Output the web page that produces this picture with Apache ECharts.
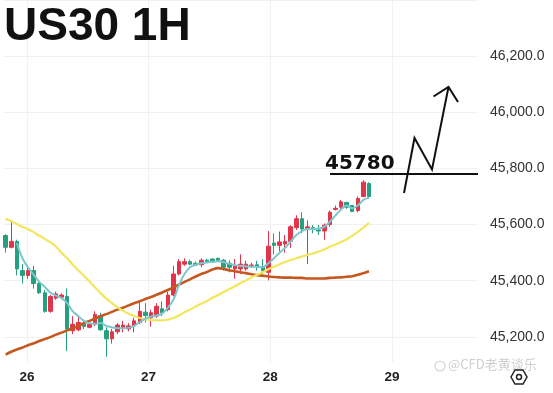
<!DOCTYPE html>
<html>
<head>
<meta charset="utf-8">
<script src="https://cdn.jsdelivr.net/npm/echarts@6/dist/echarts.min.js"></script>
<style>html,body{margin:0;padding:0;background:#fff}#c{width:553px;height:393px}</style>
</head>
<body>
<div id="c"></div>
<script>
// ---- data ----
const titleText = 'US30 1H';
const watermarkText = '@CFD老黄谈乐';
const dayLabels = ['26', '27', '28', '29'];
const dayValues = [26, 27, 28, 29];
const yTicks = [45200, 45400, 45600, 45800, 46000, 46200];
const levelValue = 45780;
const levelLabel = '45780';

const opens = [
 45561,45519,45540,45436,45419,45436,45390,45357,45291,45338,
 45341,45344,45222,45225,45245,45234,45245,45276,45222,45193,
 45218,45230,45228,45239,45251,45288,45268,45274,45300,45297,
 45349,45424,45459,45468,45462,45457,45473,45477,45480,45473,
 45462,45442,45442,45442,45451,45457,45450,45430,45534,45526,
 45531,45540,45589,45621,45584,45589,45581,45577,45600,45654,
 45662,45679,45668,45650,45700,45746];
const closes = [
 45519,45540,45442,45419,45436,45390,45357,45291,45344,45353,
 45349,45228,45245,45251,45237,45245,45280,45225,45193,45218,
 45242,45242,45239,45257,45291,45276,45286,45309,45286,45349,
 45424,45468,45468,45459,45456,45473,45468,45471,45473,45448,
 45448,45453,45459,45459,45456,45450,45436,45523,45526,45538,
 45540,45592,45621,45584,45592,45584,45577,45598,45644,45658,
 45681,45662,45647,45693,45751,45700];
const lows = [
 45500,45515,45419,45390,45407,45372,45353,45286,45286,45332,
 45334,45149,45210,45220,45228,45230,45239,45222,45129,45176,
 45210,45216,45220,45216,45245,45251,45237,45268,45274,45291,
 45344,45419,45453,45455,45452,45448,45464,45467,45469,45436,
 45430,45407,45424,45436,45445,45436,45424,45401,45494,45505,
 45500,45517,45581,45569,45459,45569,45563,45546,45592,45650,
 45656,45656,45644,45644,45697,45691];
const highs = [
 45566,45615,45546,45459,45448,45453,45401,45367,45349,45361,
 45355,45372,45274,45274,45262,45253,45291,45286,45234,45228,
 45249,45257,45249,45268,45326,45320,45297,45320,45326,45361,
 45453,45477,45480,45475,45468,45480,45478,45480,45482,45477,
 45473,45477,45494,45471,45464,45471,45477,45577,45569,45575,
 45563,45598,45633,45644,45615,45598,45598,45604,45650,45668,
 45688,45681,45670,45700,45758,45751];
const maFast = [
 '-','-',45534,45480,45448,45422,45396,45378,45357,45347,
 45338,45320,45291,45274,45257,45249,45247,45249,45239,45234,
 45231,45231,45232,45239,45253,45265,45272,45276,45283,45303,
 45332,45384,45424,45448,45457,45462,45465,45467,45469,45466,
 45460,45456,45452,45451,45450,45449,45448,45462,45480,45500,
 45517,45540,45563,45577,45584,45584,45586,45592,45610,45633,
 45654,45668,45658,45668,45688,45696];
const maMid = [
 45621,45612,45602,45592,45583,45573,45561,45549,45537,45522,
 45500,45480,45458,45437,45418,45397,45376,45355,45337,45320,
 45305,45293,45282,45274,45267,45262,45260,45259,45259,45261,
 45267,45276,45288,45297,45308,45318,45328,45339,45349,45360,
 45370,45380,45391,45401,45412,45421,45430,45441,45450,45459,
 45467,45474,45480,45486,45492,45497,45504,45511,45521,45529,
 45538,45548,45560,45574,45589,45606];
const maSlow = [
 45137,45147,45155,45162,45170,45177,45185,45192,45199,45208,
 45215,45223,45231,45239,45249,45257,45265,45274,45281,45289,
 45297,45304,45312,45320,45327,45335,45342,45350,45358,45367,
 45376,45386,45396,45405,45415,45424,45431,45440,45445,45442,
 45437,45434,45430,45427,45423,45420,45418,45415,45413,45412,
 45411,45411,45410,45410,45408,45408,45408,45408,45410,45411,
 45412,45414,45416,45421,45427,45434];

// ---- build ----
const slotCount = 85;
const categories = [];
for (let i = 0; i < slotCount; i++) categories.push(String(i));
const candleData = opens.map((o, i) => [o, closes[i], lows[i], highs[i]]);

const UP = '#e2344a', DOWN = '#25a07f';
const chart = echarts.init(document.getElementById('c'), null, {renderer: 'canvas'});

const gridLeft = 2.87, gridRight = 478;
const dayPx0 = 26.9, dayPx = 121.67;

const option = {
  animation: false,
  backgroundColor: '#ffffff',
  title: {
    text: titleText, left: 4, top: 4, padding: 0,
    textStyle: {fontFamily: 'Liberation Sans', fontSize: 46, fontWeight: 'bold', color: '#111'}
  },
  grid: [
    {left: gridLeft, width: gridRight - gridLeft, top: -7.6, height: 403.2},
    {left: dayPx0, width: 3 * dayPx, top: 0, height: 362}
  ],
  xAxis: [
    {type: 'category', gridIndex: 0, data: categories, boundaryGap: true,
     axisLine: {show: false}, axisTick: {show: false}, axisLabel: {show: false}, splitLine: {show: false}},
    {type: 'value', gridIndex: 1, min: 26, max: 29, interval: 1,
     axisLine: {show: false}, axisTick: {show: false},
     splitLine: {show: true, lineStyle: {color: '#f1f1f1', width: 1}},
     axisLabel: {margin: 8, fontFamily: 'Liberation Sans', fontSize: 13.5, fontWeight: 'bold', color: '#222',
       formatter: v => { const k = dayValues.indexOf(Math.round(v)); return k >= 0 ? dayLabels[k] : ''; }}}
  ],
  yAxis: [
    {type: 'value', gridIndex: 0, position: 'right', min: 45000, max: 46400, interval: 200,
     axisLine: {show: false}, axisTick: {show: false},
     splitLine: {show: true, lineStyle: {color: '#f1f1f1', width: 1}},
     axisLabel: {margin: 12, fontFamily: 'Liberation Sans', fontSize: 14, color: '#333',
       formatter: v => yTicks.indexOf(v) >= 0 ? v.toLocaleString('en-US', {minimumFractionDigits: 1, maximumFractionDigits: 1}) : ''}},
    {type: 'value', gridIndex: 1, min: 0, max: 1, show: false}
  ],
  series: [
    {type: 'candlestick', xAxisIndex: 0, yAxisIndex: 0, data: candleData, barWidth: 4,
     itemStyle: {color: UP, color0: DOWN, borderColor: UP, borderColor0: DOWN, borderWidth: 1}, z: 2},
    {type: 'line', xAxisIndex: 0, yAxisIndex: 0, data: maSlow, symbol: 'none', smooth: 0.3,
     lineStyle: {color: '#c4581f', width: 2.6}, z: 3},
    {type: 'line', xAxisIndex: 0, yAxisIndex: 0, data: maMid, symbol: 'none', smooth: 0.3,
     lineStyle: {color: '#f3e65e', width: 2.2}, z: 3},
    {type: 'line', xAxisIndex: 0, yAxisIndex: 0, data: maFast, symbol: 'none', smooth: 0.3,
     lineStyle: {color: '#7cc6cc', width: 2}, z: 3}
  ]
};
chart.setOption(option);

const yLvl = chart.convertToPixel({yAxisIndex: 0}, levelValue);
chart.setOption({
  graphic: [
    {type: 'line', shape: {x1: 330, y1: yLvl, x2: gridRight, y2: yLvl}, style: {stroke: '#111', lineWidth: 2}, z: 10},
    {type: 'text', left: 325, top: yLvl - 20, style: {text: levelLabel, font: 'bold 20px "DejaVu Sans"', fill: '#111'}, z: 10},
    {type: 'polyline', shape: {points: [[404, 193], [414.5, 138], [432, 169.5], [448.5, 87]]},
     style: {stroke: '#111', lineWidth: 2, fill: null}, z: 10},
    {type: 'polyline', shape: {points: [[433.5, 96.5], [448.5, 87], [458, 102]]},
     style: {stroke: '#111', lineWidth: 2, fill: null}, z: 10},
    {type: 'text', left: 448, top: 358, style: {text: watermarkText, font: '13px "Noto Sans CJK SC"', fill: '#cfcfcf'}, z: 10},
    {type: 'circle', shape: {cx: 440, cy: 366, r: 5}, style: {stroke: '#d4d4d4', lineWidth: 1.2, fill: null}, z: 10},
    {type: 'polygon', shape: {points: [[511, 377], [515, 370], [523, 370], [527, 377], [523, 384], [515, 384]]},
     style: {stroke: '#222', lineWidth: 1.5, fill: null}, z: 10},
    {type: 'circle', shape: {cx: 519, cy: 377, r: 2.5}, style: {stroke: '#222', lineWidth: 1.5, fill: null}, z: 10}
  ]
});
</script>
</body>
</html>
